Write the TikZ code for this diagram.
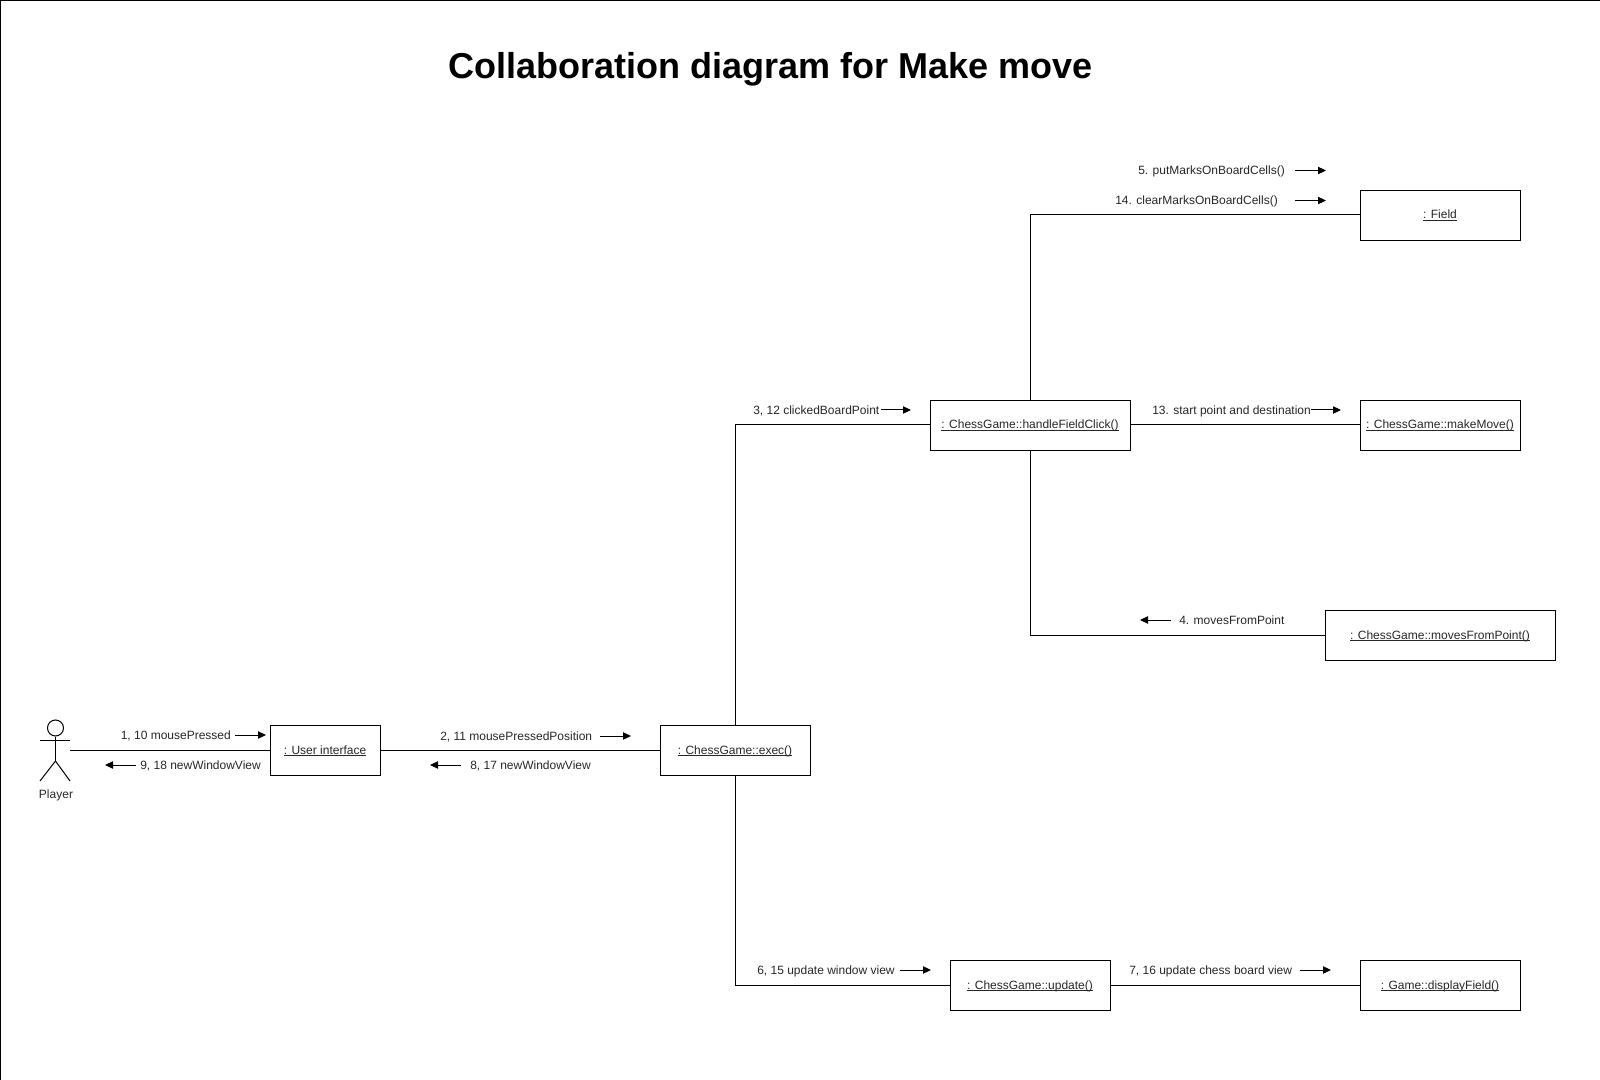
\documentclass[tikz,border=0pt]{standalone}
\usepackage{fontspec}
\setmainfont{Liberation Sans}
\usetikzlibrary{arrows.meta}
\newsavebox{\objnamebox}
\newcommand{\objname}[1]{\sbox{\objnamebox}{#1}\rlap{\rule[-1.6pt]{\wd\objnamebox}{0.5pt}}\usebox{\objnamebox}}

\begin{document}
\begin{tikzpicture}[
    x=0.75pt, y=-0.75pt,
    objbox/.style={draw, minimum width=#1*0.75pt, minimum height=37.5pt, inner sep=0pt, text height=8pt, text depth=2pt, font=\fontsize{9}{11}\selectfont, text=black!85},
    link/.style={line width=0.75pt},
    msg/.style={anchor=west, inner sep=0pt, yshift=-1.1pt, font=\fontsize{9}{11}\selectfont, color=black!85},
    msgarrow/.style={-{Stealth[length=6pt,width=5.5pt,inset=0pt]}, line width=0.75pt}
]
\useasboundingbox (0,0) rectangle (1600,1080);

%% Frame
\draw[line width=0.75pt] (0.5,1080) -- (0.5,0.5) -- (1600,0.5);

%% Title
\node[inner sep=0pt, font=\fontsize{27}{32}\selectfont\bfseries] (title) at (770.5,69) {Collaboration diagram for Make move};

%% Objects
\node[objbox=110] (ui) at (325,750) {\objname{: User interface}};
\node[objbox=150] (exec) at (735,750) {\objname{: ChessGame::exec()}};
\node[objbox=200] (click) at (1030,425) {\objname{: ChessGame::handleFieldClick()}};
\node[objbox=160] (field) at (1440,215) {\objname{: Field}};
\node[objbox=160] (makemove) at (1440,425) {\objname{: ChessGame::makeMove()}};
\node[objbox=230] (moves) at (1440,635) {\objname{: ChessGame::movesFromPoint()}};
\node[objbox=160] (update) at (1030,985) {\objname{: ChessGame::update()}};
\node[objbox=160] (display) at (1440,985) {\objname{: Game::displayField()}};

%% Player
\node[draw, circle, minimum size=12pt, inner sep=0pt, line width=0.75pt] (head) at (55.5,728) {};
\coordinate (hip) at (55.5,761);
\coordinate (player) at (70,750);
\draw[link] (head.south) -- (hip);
\draw[link] (40,740) -- (70,740);
\draw[link] (40,781) -- (hip) -- (70,781);
\node[msg, anchor=center] (playerlabel) at (56,794) {Player};

%% Links
\draw[link] (player) -- (ui.west);
\draw[link] (ui.east) -- (exec.west);
\draw[link] (exec.north) |- (click.west);
\draw[link] (exec.south) |- (update.west);
\draw[link] (click.north) |- (field.west);
\draw[link] (click.east) -- (makemove.west);
\draw[link] (click.south) |- (moves.west);
\draw[link] (update.east) -- (display.west);

%% Messages
\node[msg] (m1) at (120.5,734.5) {1, 10 mousePressed};
\node[msg] (m9) at (140,764) {9, 18 newWindowView};
\node[msg] (m2) at (440,735) {2, 11 mousePressedPosition};
\node[msg] (m8) at (470,764) {8, 17 newWindowView};
\node[msg] (m3) at (753,409) {3, 12 clickedBoardPoint};
\node[msg] (m13) at (1152,410) {13. start point and destination};
\node[msg] (m5) at (1138,170) {5. putMarksOnBoardCells()};
\node[msg] (m14) at (1115,200) {14. clearMarksOnBoardCells()};
\node[msg] (m4) at (1179,618.5) {4. movesFromPoint};
\node[msg] (m6) at (757,969.5) {6, 15 update window view};
\node[msg] (m7) at (1129,969.5) {7, 16 update chess board view};

%% Message arrows
\coordinate (a1s) at (235,735); \coordinate (a1e) at (266,735);
\coordinate (a9s) at (136,765); \coordinate (a9e) at (105,765);
\coordinate (a2s) at (600,736); \coordinate (a2e) at (631,736);
\coordinate (a8s) at (461,765); \coordinate (a8e) at (430,765);
\coordinate (a3s) at (881,410); \coordinate (a3e) at (911,410);
\coordinate (a13s) at (1311,410); \coordinate (a13e) at (1341,410);
\coordinate (a5s) at (1295,170.5); \coordinate (a5e) at (1326,170.5);
\coordinate (a14s) at (1295,200.5); \coordinate (a14e) at (1326,200.5);
\coordinate (a4s) at (1171,620); \coordinate (a4e) at (1140,620);
\coordinate (a6s) at (900,970); \coordinate (a6e) at (931,970);
\coordinate (a7s) at (1300,970); \coordinate (a7e) at (1331,970);
\draw[msgarrow] (a1s) -- (a1e);
\draw[msgarrow] (a9s) -- (a9e);
\draw[msgarrow] (a2s) -- (a2e);
\draw[msgarrow] (a8s) -- (a8e);
\draw[msgarrow] (a3s) -- (a3e);
\draw[msgarrow] (a13s) -- (a13e);
\draw[msgarrow] (a5s) -- (a5e);
\draw[msgarrow] (a14s) -- (a14e);
\draw[msgarrow] (a4s) -- (a4e);
\draw[msgarrow] (a6s) -- (a6e);
\draw[msgarrow] (a7s) -- (a7e);

\end{tikzpicture}
\end{document}
